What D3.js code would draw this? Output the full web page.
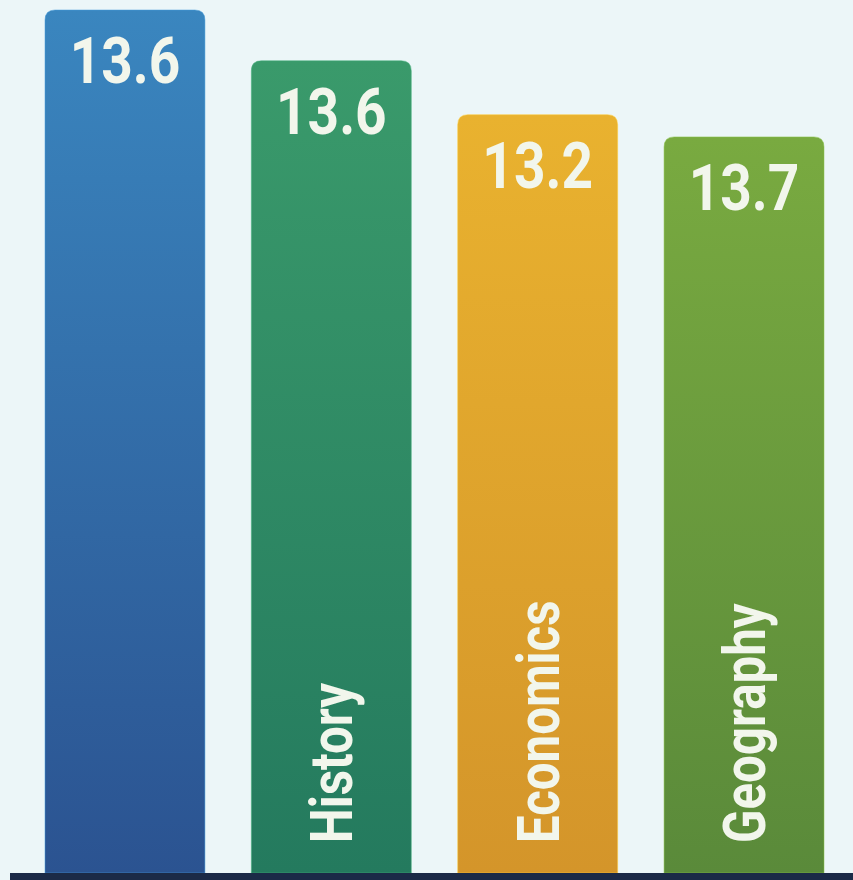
<!DOCTYPE html>
<html lang="en">
<head>
<meta charset="UTF-8">
<title>Subject scores</title>
<script src="https://d3js.org/d3.v7.min.js"></script>
<style>
    html, body {
        margin: 0;
        padding: 0;
        background: #ecf6f8;
    }
    svg text {
        font-family: Roboto, "Noto Sans", sans-serif;
        font-weight: 700;
        fill: #f2f6ec;
    }
</style>
</head>
<body>
<div id="chart"></div>
<script>
    // data
    const categories = ['', 'History', 'Economics', 'Geography'];
    const values = [13.6, 13.6, 13.2, 13.7];          // printed labels
    const barLevels = [13.6, 12.8, 11.95, 11.6];      // bar tops as drawn (they do not follow the labels)
    const topColors = ['#3a86bf', '#3a9a6b', '#e9b22f', '#79aa40'];
    const bottomColors = ['#2b5391', '#247a5e', '#d4952a', '#5a8a3a'];

    const width = 853;
    const height = 880;
    const base = 873;

    const svg = d3.select('#chart').append('svg')
        .attr('width', width)
        .attr('height', height);

    svg.append('rect')
        .attr('width', width)
        .attr('height', height)
        .attr('fill', '#ecf6f8');

    const x = d3.scaleBand()
        .domain(d3.range(categories.length))
        .range([45, 824])
        .paddingInner(0.225)
        .paddingOuter(0);

    const y = d3.scaleLinear()
        .domain([0, d3.max(barLevels)])
        .range([base, 10]);

    // gradients, one per bar
    const defs = svg.append('defs');
    const grads = defs.selectAll('linearGradient')
        .data(categories)
        .enter().append('linearGradient')
        .attr('id', (d, i) => 'g' + i)
        .attr('x1', 0).attr('y1', 0).attr('x2', 0).attr('y2', 1);
    grads.append('stop').attr('offset', '0%').attr('stop-color', (d, i) => topColors[i]);
    grads.append('stop').attr('offset', '100%').attr('stop-color', (d, i) => bottomColors[i]);

    // bar with rounded top corners only
    function barPath(i) {
        const x0 = x(i), x1 = x(i) + x.bandwidth();
        const t = y(barLevels[i]), b = y(0);
        const r = 10;
        return `M${x0},${b} V${t + r} Q${x0},${t} ${x0 + r},${t} H${x1 - r} Q${x1},${t} ${x1},${t + r} V${b} Z`;
    }

    const bars = svg.append('g').selectAll('g')
        .data(categories)
        .enter().append('g');

    bars.append('path')
        .attr('d', (d, i) => barPath(i))
        .attr('fill', (d, i) => `url(#g${i})`)
        .attr('stroke', (d, i) => d3.color(topColors[i]).brighter(0.4))
        .attr('stroke-opacity', 0.5)
        .attr('stroke-width', 1);

    // value labels
    bars.append('text')
        .attr('transform', (d, i) => `translate(${x(i) + x.bandwidth() / 2},${y(barLevels[i]) + 73}) scale(0.86,1)`)
        .attr('text-anchor', 'middle')
        .style('font-size', '64px')
        .text((d, i) => values[i].toFixed(1));

    // category labels, reading upward
    bars.append('text')
        .attr('transform', (d, i) => `translate(${x(i) + x.bandwidth() / 2},843) rotate(-90) scale(0.82,1)`)
        .attr('dy', 21)
        .attr('text-anchor', 'start')
        .style('font-size', '60px')
        .text(d => d);

    // baseline
    svg.append('rect')
        .attr('x', 10)
        .attr('y', base)
        .attr('width', width - 10)
        .attr('height', height - base)
        .attr('fill', '#1b2a47');
</script>
</body>
</html>
